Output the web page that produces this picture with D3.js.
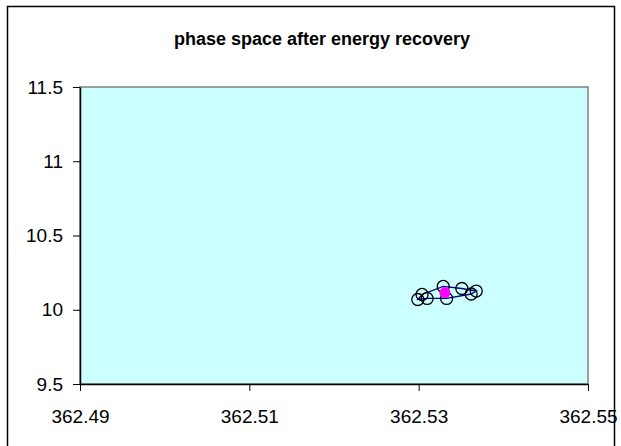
<!DOCTYPE html>
<html>
<head>
<meta charset="utf-8">
<script src="https://cdn.jsdelivr.net/npm/d3@7"></script>
<style>
  html, body { margin: 0; padding: 0; background: #fff; }
  svg { display: block; }
</style>
</head>
<body>
<svg id="chart" width="621" height="446"></svg>
<script>
const chartTitle = "phase space after energy recovery";
const xTicks = [362.49, 362.51, 362.53, 362.55];
const xTickLabels = ["362.49", "362.51", "362.53", "362.55"];
const yTicks = [9.5, 10, 10.5, 11, 11.5];
const yTickLabels = ["9.5", "10", "10.5", "11", "11.5"];

// ellipse of particles (closed loop)
const ellipseX = [362.5299, 362.5304, 362.5329, 362.5351, 362.5368, 362.5362, 362.5333, 362.5310];
const ellipseY = [10.069, 10.103, 10.157, 10.143, 10.126, 10.106, 10.076, 10.076];
// centre
const centreX = [362.5331];
const centreY = [10.116];

const svg = d3.select("#chart");
const W = 621, H = 446;
const m = { left: 80, right: 33, top: 87, bottom: 62 };

// outer chart border
svg.append("rect").attr("x", 7.5).attr("y", 6.5).attr("width", 607).attr("height", 450)
  .attr("fill", "#fff").attr("stroke", "#000").attr("stroke-width", 1.5);

const x = d3.scaleLinear().domain([362.49, 362.55]).range([m.left, W - m.right]);
const y = d3.scaleLinear().domain([9.5, 11.5]).range([H - m.bottom, m.top]);

// plot area
svg.append("rect")
  .attr("x", x(362.49)).attr("y", y(11.5))
  .attr("width", x(362.55) - x(362.49)).attr("height", y(9.5) - y(11.5))
  .attr("fill", "#CCFFFF").attr("stroke", "#808080").attr("stroke-width", 1.5);

// title
svg.append("text").attr("x", 322).attr("y", 45)
  .attr("text-anchor", "middle")
  .attr("font-family", "Liberation Sans, Arial, sans-serif")
  .attr("font-weight", "bold").attr("font-size", 18)
  .text(chartTitle);

// axes
const xAxis = d3.axisBottom(x).tickValues(xTicks)
  .tickFormat((d, i) => xTickLabels[i]).tickSize(7).tickSizeOuter(0).tickPadding(19);
const gx = svg.append("g").attr("transform", `translate(0,${y(9.5)})`).call(xAxis);

const yAxis = d3.axisLeft(y).tickValues(yTicks)
  .tickFormat((d, i) => yTickLabels[i]).tickSize(7).tickSizeOuter(0).tickPadding(10);
const gy = svg.append("g").attr("transform", `translate(${x(362.49)},0)`).call(yAxis);

[gx, gy].forEach(g => {
  g.select(".domain").attr("stroke", "#000").attr("stroke-width", 1.5);
  g.selectAll(".tick line").attr("stroke", "#000").attr("stroke-width", 1);
  g.selectAll(".tick text")
    .attr("font-family", "Liberation Sans, Arial, sans-serif")
    .attr("font-size", 19).attr("fill", "#000");
});

// ellipse line
const pts = ellipseX.map((v, i) => [v, ellipseY[i]]);
const line = d3.line().x(d => x(d[0])).y(d => y(d[1])).curve(d3.curveLinearClosed);
svg.append("path").datum(pts).attr("d", line)
  .attr("fill", "none").attr("stroke", "#000080").attr("stroke-width", 1.3);

// markers
svg.selectAll("circle.p").data(pts).enter().append("circle")
  .attr("class", "p")
  .attr("cx", d => x(d[0])).attr("cy", d => y(d[1])).attr("r", 6)
  .attr("fill", "none").attr("stroke", "#000").attr("stroke-width", 1.3);

// centre point
svg.selectAll("circle.c").data(centreX.map((v, i) => [v, centreY[i]])).enter().append("circle")
  .attr("class", "c")
  .attr("cx", d => x(d[0])).attr("cy", d => y(d[1])).attr("r", 5.5)
  .attr("fill", "#FF00FF");
</script>
</body>
</html>
